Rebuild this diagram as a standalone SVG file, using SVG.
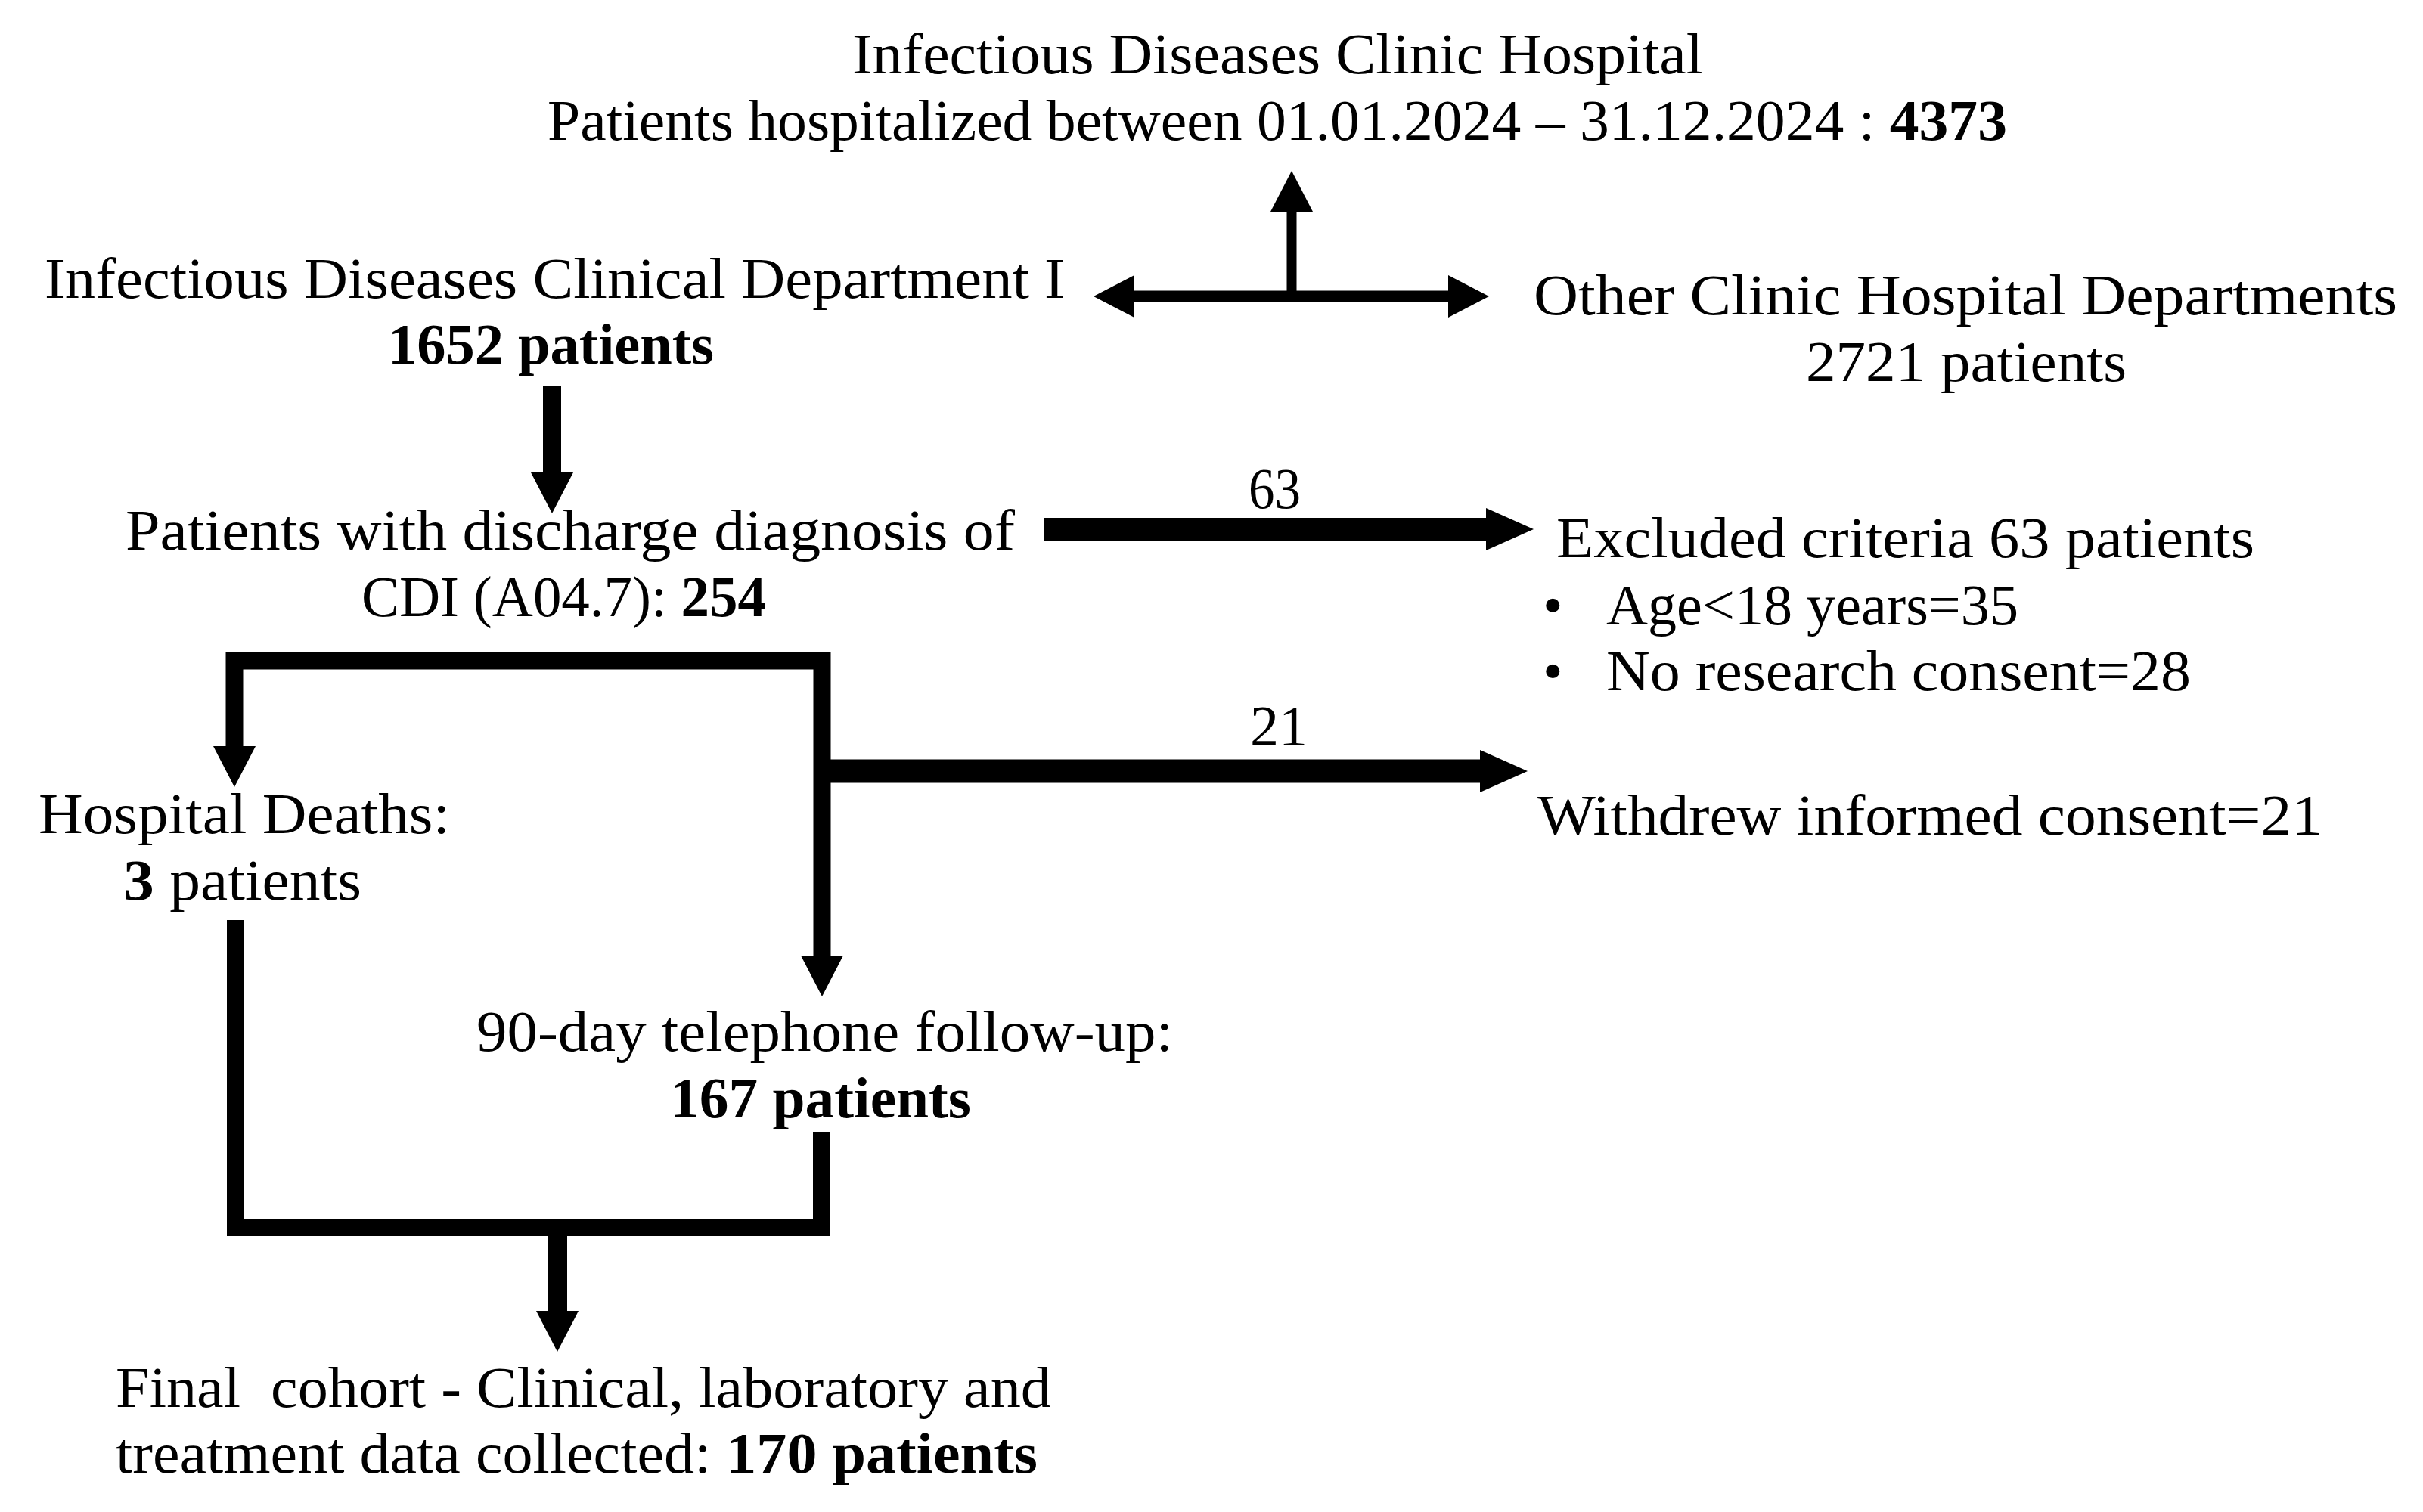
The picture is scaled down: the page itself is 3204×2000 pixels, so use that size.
<svg xmlns="http://www.w3.org/2000/svg" width="3204" height="2000" viewBox="0 0 3204 2000">
<style>
  text { font-family: "Liberation Serif", "Times New Roman", serif; font-size: 76px; fill: #000; }
  .b { font-weight: bold; }
  .c { fill: none; stroke: #000; stroke-linecap: butt; stroke-linejoin: miter; }
</style>
<defs>
  <marker id="ah" markerUnits="userSpaceOnUse" viewBox="0 0 54 56" markerWidth="54" markerHeight="56" refX="0" refY="28" orient="auto-start-reverse">
    <path d="M0,0 L54,28 L0,56 z" fill="#000"/>
  </marker>
  <marker id="ahl" markerUnits="userSpaceOnUse" viewBox="0 0 63 56" markerWidth="63" markerHeight="56" refX="0" refY="28" orient="auto-start-reverse">
    <path d="M0,0 L63,28 L0,56 z" fill="#000"/>
  </marker>
</defs>
<rect x="0" y="0" width="3204" height="2000" fill="#fff"/>

<g id="connectors">
  <path class="c" d="M1708,392 V280" stroke-width="13" marker-end="url(#ah)"/>
  <path class="c" d="M1500,392 H1915" stroke-width="15" marker-start="url(#ah)" marker-end="url(#ah)"/>
  <path class="c" d="M730,510 V625" stroke-width="24" marker-end="url(#ah)"/>
  <path class="c" d="M1380,700 H1965" stroke-width="30" marker-end="url(#ahl)"/>
  <path class="c" d="M310,987 V874 H1087 V1264" stroke-width="23" marker-start="url(#ah)" marker-end="url(#ah)"/>
  <path class="c" d="M1087,1020 H1957" stroke-width="31" marker-end="url(#ahl)"/>
  <path class="c" d="M311,1217 V1624 H1086 V1497" stroke-width="22"/>
  <path class="c" d="M737,1624 V1734" stroke-width="26" marker-end="url(#ah)"/>
  <text x="1651" y="672" textLength="69" lengthAdjust="spacingAndGlyphs">63</text>
  <text x="1653" y="986" textLength="76" lengthAdjust="spacingAndGlyphs">21</text>
</g>

<g id="hospital">
  <text x="1127" y="97" textLength="1125" lengthAdjust="spacingAndGlyphs">Infectious Diseases Clinic Hospital</text>
  <text x="724" y="185" textLength="1930" lengthAdjust="spacingAndGlyphs">Patients hospitalized between 01.01.2024 – 31.12.2024 : <tspan class="b">4373</tspan></text>
</g>

<g id="dept1">
  <text x="59" y="394" textLength="1349" lengthAdjust="spacingAndGlyphs">Infectious Diseases Clinical Department I</text>
  <text x="513" y="481" textLength="431" lengthAdjust="spacingAndGlyphs" class="b">1652 patients</text>
</g>

<g id="otherdepts">
  <text x="2028" y="416" textLength="1142" lengthAdjust="spacingAndGlyphs">Other Clinic Hospital Departments</text>
  <text x="2388" y="504" textLength="424" lengthAdjust="spacingAndGlyphs">2721 patients</text>
</g>

<g id="cdi">
  <text x="166" y="727" textLength="1176" lengthAdjust="spacingAndGlyphs">Patients with discharge diagnosis of</text>
  <text x="478" y="815" textLength="535" lengthAdjust="spacingAndGlyphs">CDI (A04.7): <tspan class="b">254</tspan></text>
</g>

<g id="excluded">
  <text x="2058" y="737" textLength="923" lengthAdjust="spacingAndGlyphs">Excluded criteria 63 patients</text>
  <text x="2040" y="826">•</text>
  <text x="2124" y="826" textLength="545" lengthAdjust="spacingAndGlyphs">Age&lt;18 years=35</text>
  <text x="2040" y="913">•</text>
  <text x="2124" y="913" textLength="773" lengthAdjust="spacingAndGlyphs">No research consent=28</text>
</g>

<g id="withdrew">
  <text x="2033" y="1104" textLength="1038" lengthAdjust="spacingAndGlyphs">Withdrew informed consent=21</text>
</g>

<g id="deaths">
  <text x="51" y="1102" textLength="544" lengthAdjust="spacingAndGlyphs">Hospital Deaths:</text>
  <text x="163" y="1190" textLength="315" lengthAdjust="spacingAndGlyphs"><tspan class="b">3</tspan> patients</text>
</g>

<g id="followup">
  <text x="630" y="1390" textLength="921" lengthAdjust="spacingAndGlyphs">90-day telephone follow-up:</text>
  <text x="886" y="1478" textLength="398" lengthAdjust="spacingAndGlyphs" class="b">167 patients</text>
</g>

<g id="final">
  <text x="153" y="1861" textLength="1237" lengthAdjust="spacingAndGlyphs" xml:space="preserve">Final  cohort - Clinical, laboratory and</text>
  <text x="153" y="1948" textLength="1219" lengthAdjust="spacingAndGlyphs">treatment data collected: <tspan class="b">170 patients</tspan></text>
</g>
</svg>
